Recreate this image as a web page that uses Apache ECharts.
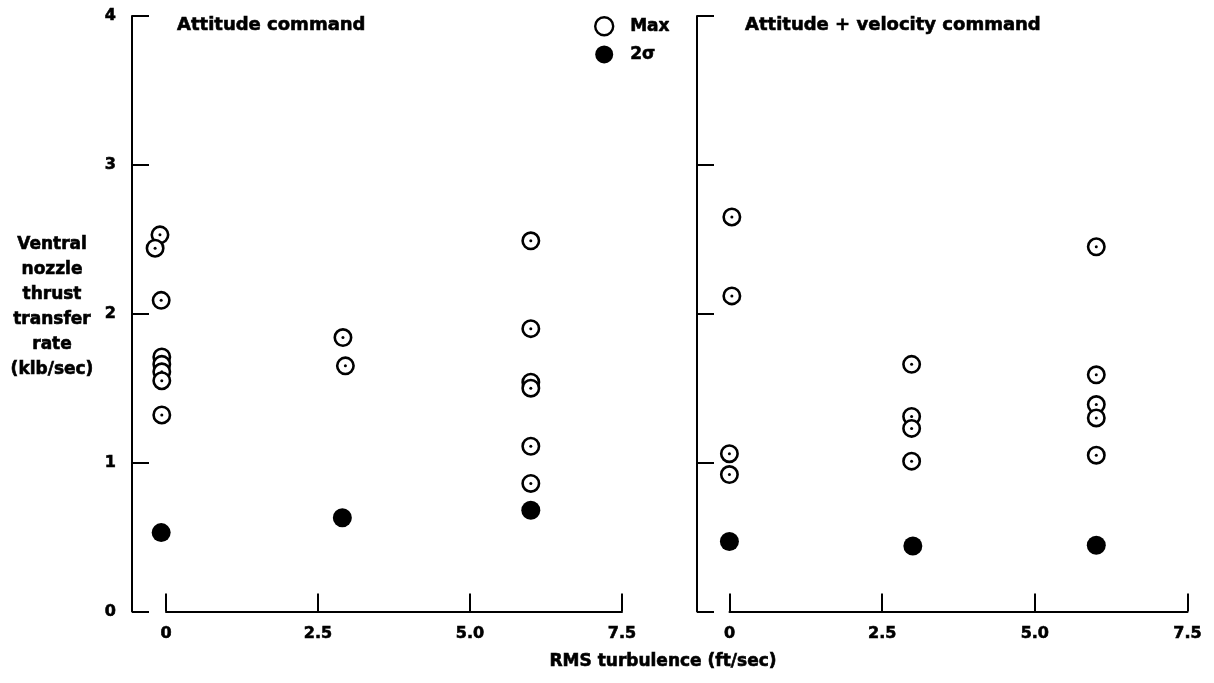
<!DOCTYPE html>
<html>
<head>
<meta charset="utf-8">
<script src="https://cdn.jsdelivr.net/npm/echarts@6/dist/echarts.min.js"></script>
<style>
  html, body { margin: 0; padding: 0; background: #fff; }
  #chart { width: 1214px; height: 683px; }
</style>
</head>
<body>
<div id="chart"></div>
<script>
// Ventral nozzle thrust transfer rate vs RMS turbulence, two command modes.
const turbTicks = [0, 2.5, 5, 7.5];
const turbTickLabels = ['0', '2.5', '5.0', '7.5'];
const rateTicks = [0, 1, 2, 3, 4];
const rateTickLabels = ['0', '1', '2', '3', '4'];

// Attitude command: maximum values (open) and 2-sigma values (filled)
const attMaxTurb = [-0.10, -0.18, -0.08, -0.07, -0.07, -0.07, -0.07, -0.07, 2.91, 2.95, 6.0, 6.0, 6.0, 6.0, 6.0, 6.0];
const attMaxRate = [2.53, 2.44, 2.09, 1.71, 1.66, 1.61, 1.55, 1.32, 1.84, 1.65, 2.49, 1.90, 1.54, 1.50, 1.11, 0.86];
const att2sTurb = [-0.08, 2.90, 6.0];
const att2sRate = [0.53, 0.63, 0.68];

// Attitude + velocity command
const velMaxTurb = [0.04, 0.04, 0.0, 0.0, 2.98, 2.98, 2.98, 2.98, 6.0, 6.0, 6.0, 6.0, 6.0];
const velMaxRate = [2.65, 2.12, 1.06, 0.92, 1.66, 1.31, 1.23, 1.01, 2.45, 1.59, 1.39, 1.30, 1.05];
const vel2sTurb = [0.0, 3.0, 6.0];
const vel2sRate = [0.47, 0.44, 0.445];

const FONT = '"DejaVu Sans", "Liberation Sans", sans-serif';
const INK = '#000';
const HEAVY = { textBorderColor: INK, textBorderWidth: 0.6 };

function pairs(xs, ys) { return xs.map((x, i) => [x, ys[i]]); }

// open circle with a centre dot; later points paint over earlier ones
function openDot(params, api) {
  const p = api.coord([api.value(0), api.value(1)]);
  return {
    type: 'group',
    children: [
      { type: 'circle', shape: { cx: p[0], cy: p[1], r: 8.2 },
        style: { fill: '#fff', stroke: INK, lineWidth: 2.6 } },
      { type: 'circle', shape: { cx: p[0], cy: p[1], r: 1.5 },
        style: { fill: INK } }
    ]
  };
}

function dataX(grid, min) {
  return { gridIndex: grid, type: 'value', min: min, max: 7.5, show: false };
}
function tickX(grid) {
  return {
    gridIndex: grid, type: 'value', min: 0, max: 7.5, interval: 2.5,
    axisLine: { show: true, onZero: false, lineStyle: { color: INK, width: 2 } },
    axisTick: { show: true, inside: true, length: 18, lineStyle: { color: INK, width: 2 } },
    axisLabel: Object.assign({
      show: true, margin: 14, color: INK, fontFamily: FONT, fontWeight: 'bold', fontSize: 16,
      formatter: v => turbTickLabels[turbTicks.indexOf(v)] ?? ''
    }, HEAVY),
    splitLine: { show: false }
  };
}
function rateY(grid, labels) {
  return {
    gridIndex: grid, type: 'value', min: 0, max: 4, interval: 1,
    axisLine: { show: true, onZero: false, lineStyle: { color: INK, width: 2 } },
    axisTick: { show: true, inside: true, length: 17, lineStyle: { color: INK, width: 2 } },
    axisLabel: Object.assign({
      show: labels, margin: 16, color: INK, fontFamily: FONT, fontWeight: 'bold', fontSize: 16,
      formatter: v => rateTickLabels[rateTicks.indexOf(v)] ?? ''
    }, HEAVY),
    splitLine: { show: false }
  };
}
function hiddenY(grid) {
  return { gridIndex: grid, type: 'value', min: 0, max: 4, show: false };
}

const TOP = 16, H = 595.5;

const option = {
  backgroundColor: '#fff',
  animation: false,
  grid: [
    { left: 132, top: TOP, width: 490, height: H },
    { left: 166, top: TOP, width: 456, height: H },
    { left: 697, top: TOP, width: 491, height: H },
    { left: 729.5, top: TOP, width: 458, height: H }
  ],
  xAxis: [dataX(0, -0.56), tickX(1), dataX(2, -0.53), tickX(3)],
  yAxis: [rateY(0, true), hiddenY(1), rateY(2, false), hiddenY(3)],
  legend: {
    orient: 'vertical', left: 594, top: 16, padding: 0,
    itemWidth: 18, itemHeight: 18, itemGap: 9, selectedMode: false,
    textStyle: Object.assign({ color: INK, fontFamily: FONT, fontWeight: 'bold', fontSize: 17,
      padding: [0, 0, 0, 12] }, HEAVY),
    data: [
      { name: 'Max', icon: 'circle', itemStyle: { color: '#fff', borderColor: INK, borderWidth: 2.4 } },
      { name: '2σ', icon: 'circle', itemStyle: { color: INK, borderWidth: 0 } }
    ]
  },
  series: [
    { name: 'Max', type: 'custom', xAxisIndex: 0, yAxisIndex: 0,
      encode: { x: 0, y: 1 }, renderItem: openDot, data: pairs(attMaxTurb, attMaxRate) },
    { name: '2σ', type: 'scatter', xAxisIndex: 0, yAxisIndex: 0, symbol: 'circle', symbolSize: 19,
      itemStyle: { color: INK, opacity: 1 }, data: pairs(att2sTurb, att2sRate) },
    { name: 'Max', type: 'custom', xAxisIndex: 2, yAxisIndex: 2,
      encode: { x: 0, y: 1 }, renderItem: openDot, data: pairs(velMaxTurb, velMaxRate) },
    { name: '2σ', type: 'scatter', xAxisIndex: 2, yAxisIndex: 2, symbol: 'circle', symbolSize: 19,
      itemStyle: { color: INK, opacity: 1 }, data: pairs(vel2sTurb, vel2sRate) }
  ],
  graphic: [
    { type: 'text', x: 177, y: 25, style: { text: 'Attitude command', fill: INK,
      stroke: INK, lineWidth: 0.6,
      font: 'bold 18px ' + FONT, textAlign: 'left', textVerticalAlign: 'middle' } },
    { type: 'text', x: 745, y: 25, style: { text: 'Attitude + velocity command', fill: INK,
      stroke: INK, lineWidth: 0.6,
      font: 'bold 18px ' + FONT, textAlign: 'left', textVerticalAlign: 'middle' } },
    { type: 'text', x: 52, y: 307.5, style: {
      text: 'Ventral\nnozzle\nthrust\ntransfer\nrate\n(klb/sec)', fill: INK, lineHeight: 25,
      stroke: INK, lineWidth: 0.6,
      font: 'bold 17px ' + FONT, textAlign: 'center', textVerticalAlign: 'middle' } },
    { type: 'text', x: 663, y: 662, style: { text: 'RMS turbulence (ft/sec)', fill: INK,
      stroke: INK, lineWidth: 0.6,
      font: 'bold 17px ' + FONT, textAlign: 'center', textVerticalAlign: 'middle' } }
  ]
};

const chart = echarts.init(document.getElementById('chart'), null, { renderer: 'canvas' });
chart.setOption(option);
</script>
</body>
</html>
